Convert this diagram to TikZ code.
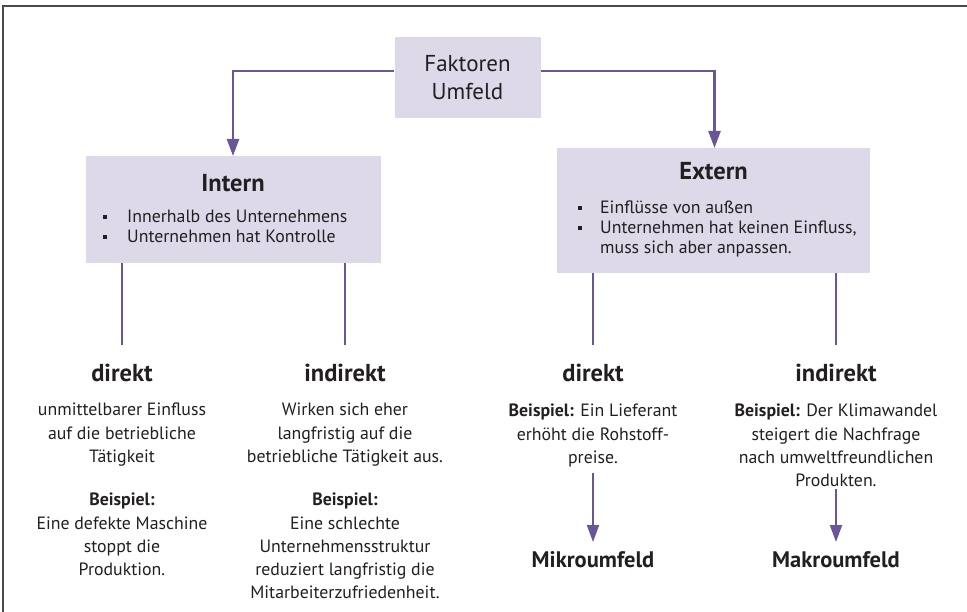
\documentclass[tikz,border=0pt]{standalone}
\usepackage{fontspec}
\setmainfont{PT Sans}
\usetikzlibrary{arrows.meta,calc}
\definecolor{boxfill}{HTML}{DDD9E9}
\definecolor{lineviolet}{HTML}{6A549A}
\definecolor{txt}{HTML}{231F20}
\definecolor{frame}{HTML}{4A4A4A}
\tikzset{
  catbox/.style={fill=boxfill, draw=none, inner sep=0pt, anchor=north west},
  conn/.style={draw=lineviolet, line width=2.4pt},
  connthin/.style={draw=lineviolet, line width=2pt},
  arr/.style={-{Triangle[length=17pt,width=12pt]}},
  title/.style={font=\fontsize{24.5}{28}\selectfont\bfseries, text=txt, inner sep=0pt},
  body/.style={font=\fontsize{17.8}{23.2}\selectfont, text=txt, align=center, inner sep=0pt},
  bul/.style={font=\fontsize{17.8}{20}\selectfont, text=txt, inner sep=0pt, anchor=base west},
  dot/.style={fill=txt, minimum size=4.5pt, inner sep=0pt}
}
\begin{document}
\begin{tikzpicture}[x=1pt,y=-1pt]
\useasboundingbox (0,0) rectangle (967,612);
% frame
\draw[frame, line width=1.6pt] (967,6) -- (3,6) -- (3,612);

% top node
\node[fill=boxfill, minimum width=146pt, minimum height=81pt, inner sep=0pt,
      font=\fontsize{23}{28}\selectfont, text=txt, align=center] (fak) at (467.5,77.5) {Faktoren\\Umfeld};

% Intern box
\node[catbox, minimum width=295pt, minimum height=107pt] (intern) at (86,156) {};
\node[title] (internT) at (233,183) {Intern};
\node[dot] (ib1) at (105,217) {};
\node[bul] (it1) at (127,223) {Innerhalb des Unternehmens};
\node[dot] (ib2) at (105,237) {};
\node[bul] (it2) at (127,243) {Unternehmen hat Kontrolle};

% Extern box
\node[catbox, minimum width=313pt, minimum height=125pt] (extern) at (557,148) {};
\node[title] (externT) at (713.5,171) {Extern};
\node[dot] (eb1) at (580,208) {};
\node[bul] (et1) at (600,214) {Einflüsse von außen};
\node[dot] (eb2) at (580,228) {};
\node[bul] (et2) at (600,234) {Unternehmen hat keinen Einfluss,};
\node[bul] (et3) at (600,254) {muss sich aber anpassen.};

% top connectors
\draw[conn, arr] (fak.west |- 0,71) -- (233,71) -- (intern.north -| 233,0);
\draw[conn, arr] (fak.east |- 0,71) -- (714.5,71) -- (extern.north -| 714.5,0);

% second level titles
\node[title] (d1) at (122,373) {direkt};
\node[title] (i1) at (345,373) {indirekt};
\node[title] (d2) at (593,373) {direkt};
\node[title] (i2) at (836,373) {indirekt};

\draw[connthin] (intern.south -| d1) -- (122,345);
\draw[connthin] (intern.south -| i1) -- (345,345);
\draw[connthin] (extern.south -| d2) -- (593,345);
\draw[connthin] (extern.south -| i2) -- (836,345);

% texts
\node[body, anchor=north] (d1t) at (122,403) {unmittelbarer Einfluss\\auf die betriebliche\\Tätigkeit};
\node[body, anchor=north] (d1b) at (122,493) {\textbf{Beispiel:}\\Eine defekte Maschine\\stoppt die\\Produktion.};
\node[body, anchor=north] (i1t) at (345,403) {Wirken sich eher\\langfristig auf die\\betriebliche Tätigkeit aus.};
\node[body, anchor=north] (i1b) at (345,493) {\textbf{Beispiel:}\\Eine schlechte\\Unternehmensstruktur\\reduziert langfristig die\\Mitarbeiterzufriedenheit.};
\node[body, anchor=north] (d2t) at (593,404) {\textbf{Beispiel:} Ein Lieferant\\erhöht die Rohstoff-\\preise.};
\node[body, anchor=north] (i2t) at (836,404) {\textbf{Beispiel:} Der Klimawandel\\steigert die Nachfrage\\nach umweltfreundlichen\\Produkten.};

% bottom
\node[title, font=\fontsize{22.5}{26}\selectfont\bfseries] (mik) at (593,560) {Mikroumfeld};
\node[title, font=\fontsize{22.5}{26}\selectfont\bfseries] (mak) at (836,560) {Makroumfeld};
\draw[connthin, arr] (593,473) -- (593,542);
\draw[connthin, arr] (836,489) -- (836,542);
\end{tikzpicture}
\end{document}
